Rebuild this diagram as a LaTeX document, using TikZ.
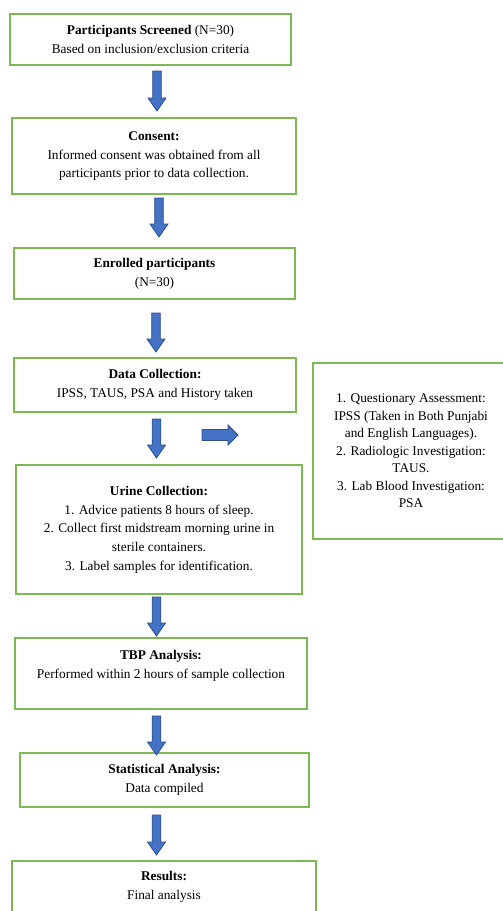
\documentclass[tikz,border=0pt]{standalone}
\usepackage{fontspec}
\setmainfont{Liberation Serif}
\usetikzlibrary{calc}
\definecolor{boxgreen}{HTML}{7CB955}
\definecolor{arrfill}{HTML}{4472C4}
\definecolor{arrline}{HTML}{2F528F}
\begin{document}
\begin{tikzpicture}[x=0.75pt,y=-0.75pt,
  box/.style 2 args={draw=boxgreen, line width=1.1pt, fill=white,
    minimum width=#1*0.75pt, minimum height=#2*0.75pt, inner sep=0pt,
    align=center, font=\fontsize{10}{14}\selectfont},
  sidebox/.style={font=\fontsize{10}{13.1}\selectfont},
  barrow/.style={fill=arrfill, draw=arrline, line width=0.6pt, line join=miter},
  downarrow/.style={to path={let \p1=(\tikztostart), \p2=(\tikztotarget) in
    (\x1-3.2pt,\y1) -- (\x1+3.2pt,\y1) -- (\x1+3.2pt,\y2+9.75pt) -- (\x1+6.75pt,\y2+9.75pt)
    -- (\x2,\y2) -- (\x1-6.75pt,\y2+9.75pt) -- (\x1-3.2pt,\y2+9.75pt) -- cycle}},
  rightarrow/.style={to path={let \p1=(\tikztostart), \p2=(\tikztotarget) in
    (\x1,\y1+4.1pt) -- (\x1,\y1-4.1pt) -- (\x2-7.5pt,\y1-4.1pt) -- (\x2-7.5pt,\y1-7.5pt)
    -- (\x2,\y2) -- (\x2-7.5pt,\y1+7.5pt) -- (\x2-7.5pt,\y1+4.1pt) -- cycle}}
]
\useasboundingbox (0,0) rectangle (503,911);
\clip (0,0) rectangle (503,911);
\fill[white] (0,0) rectangle (503,911);

\node[box={281}{51}] (b1) at (150.5,39.5)
  {\textbf{Participants Screened} (N=30)\\Based on inclusion/exclusion criteria};
\node[box={284}{76}] (b2) at (154,156)
  {\textbf{Consent:}\\Informed consent was obtained from all\\participants prior to data collection.};
\node[box={281}{51}] (b3) at (154.5,273.5)
  {\textbf{Enrolled participants}\\(N=30)};
\node[box={282}{54}] (b4) at (155,385)
  {\textbf{Data Collection:}\\IPSS, TAUS, PSA and History taken};
\node[box={286}{129}] (b5) at (159,529.5)
  {\textbf{Urine Collection:}\\1. Advice patients 8 hours of sleep.\\2. Collect first midstream morning urine in\\sterile containers.\\3. Label samples for identification.};
\node[box={196}{176}, sidebox] (side) at (411,451)
  {1. Questionary Assessment:\\IPSS (Taken in Both Punjabi\\and English Languages).\\2. Radiologic Investigation:\\TAUS.\\3. Lab Blood Investigation:\\PSA};
\node[box={292}{71}] (b6) at (161,673.5)
  {\textbf{TBP Analysis:}\\Performed within 2 hours of sample collection\\\mbox{}};
\node[box={289}{54}] (b7) at (164.5,780)
  {\textbf{Statistical Analysis:}\\Data compiled};
\node[box={304}{51}] (b8) at (164,886.5)
  {\textbf{Results:}\\Final analysis};

\coordinate (a1s) at (157,71);   \coordinate (a1e) at (157,111);
\coordinate (a2s) at (159,198);  \coordinate (a2e) at (159,237);
\coordinate (a3s) at (156,313);  \coordinate (a3e) at (156,352);
\coordinate (a4s) at (156.5,419); \coordinate (a4e) at (156.5,458);
\coordinate (a5s) at (156.5,597); \coordinate (a5e) at (156.5,636);
\coordinate (a6s) at (156.5,716); \coordinate (a6e) at (156.5,755);
\coordinate (a7s) at (156.5,815); \coordinate (a7e) at (156.5,855);
\coordinate (ars) at (202,435);  \coordinate (are) at (238,435);

\draw[barrow] (a1s) to[downarrow] (a1e);
\draw[barrow] (a2s) to[downarrow] (a2e);
\draw[barrow] (a3s) to[downarrow] (a3e);
\draw[barrow] (a4s) to[downarrow] (a4e);
\draw[barrow] (a5s) to[downarrow] (a5e);
\draw[barrow] (a6s) to[downarrow] (a6e);
\draw[barrow] (a7s) to[downarrow] (a7e);
\draw[barrow] (ars) to[rightarrow] (are);
\end{tikzpicture}
\end{document}
